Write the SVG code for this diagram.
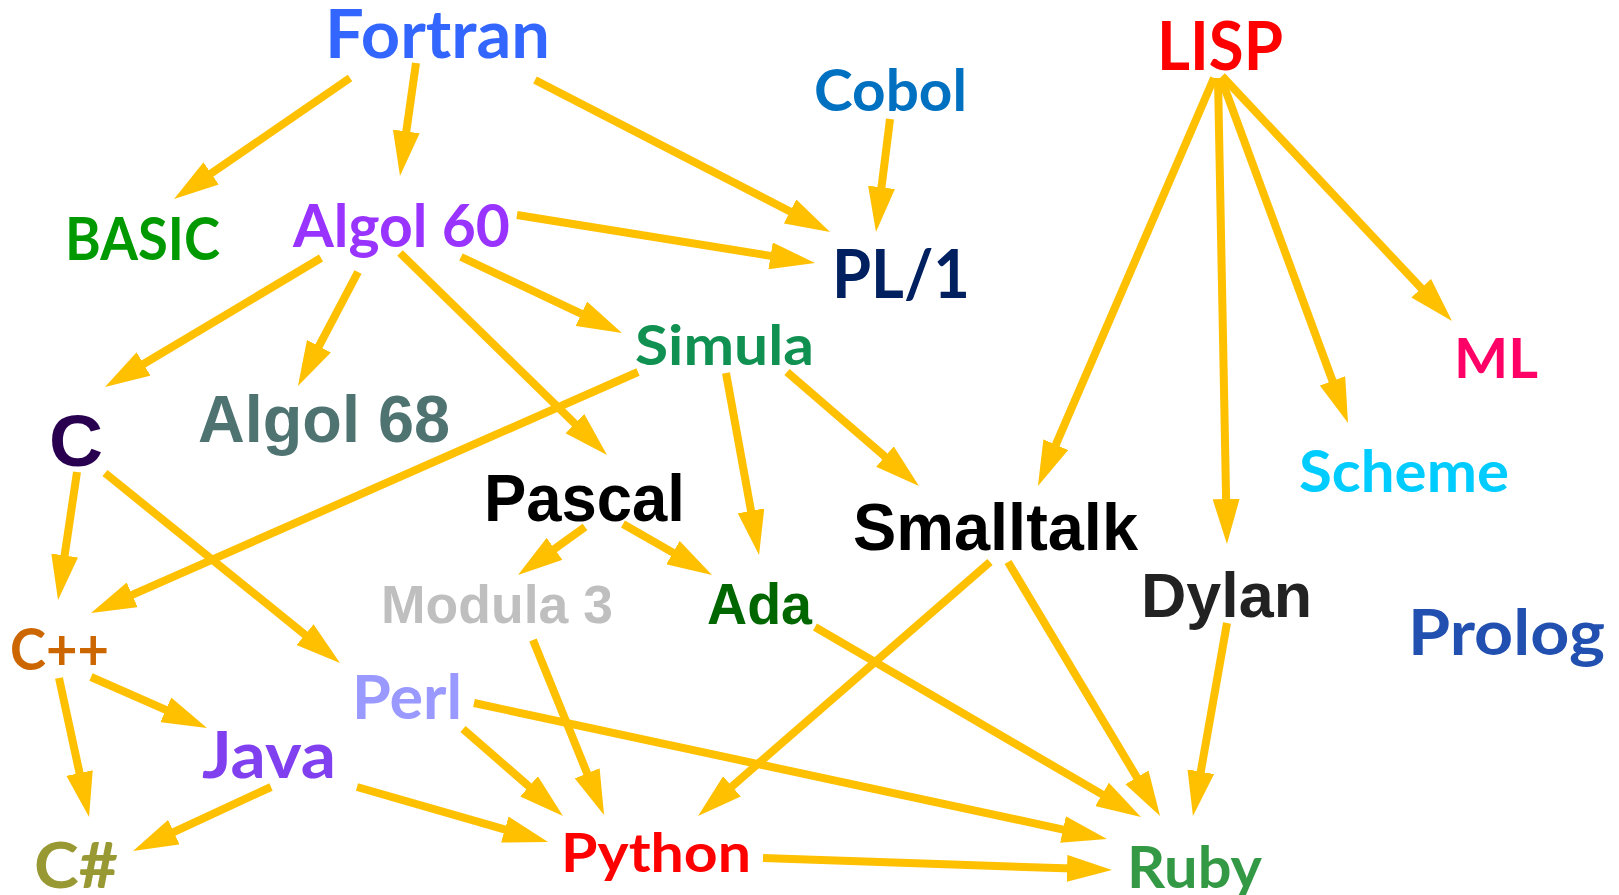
<svg xmlns="http://www.w3.org/2000/svg" width="1619" height="895" viewBox="0 0 1619 895">
  <style>
    .c { font-family: Lato, "Open Sans", "Liberation Sans", sans-serif; font-weight: bold; }
    .a { font-family: "Liberation Sans", Arial, sans-serif; font-weight: bold; }
    .edges line { stroke: #FFC000; stroke-width: 8; marker-end: url(#head); }
  </style>
  <defs>
    <marker id="head" markerUnits="userSpaceOnUse" markerWidth="45" markerHeight="27" viewBox="0 0 45 27" refX="5" refY="13.5" orient="auto">
      <path d="M0,0 L45,13.5 L0,27 z" fill="#FFC000"/>
    </marker>
  </defs>
  <rect width="1619" height="895" fill="#FFFFFF"/>

  <!-- influence arrows -->
  <g id="edges" class="edges">
    <line x1="350" y1="78" x2="207.0" y2="176.3"/>
    <line x1="416" y1="63" x2="405.6" y2="136.4"/>
    <line x1="535" y1="80" x2="794.5" y2="213.7"/>
    <line x1="890" y1="119" x2="880.9" y2="192.3"/>
    <line x1="517" y1="215" x2="775.5" y2="256.6"/>
    <line x1="321" y1="258" x2="139.3" y2="366.5"/>
    <line x1="358" y1="272" x2="316.6" y2="350.6"/>
    <line x1="400" y1="253" x2="578.4" y2="427.1"/>
    <line x1="461" y1="257" x2="585.8" y2="315.9"/>
    <line x1="638" y1="372" x2="127.6" y2="596.9"/>
    <line x1="726" y1="373" x2="751.9" y2="515.7"/>
    <line x1="787" y1="372" x2="888.7" y2="459.8"/>
    <line x1="1214" y1="78" x2="1053.8" y2="449.3"/>
    <line x1="1218" y1="78" x2="1226.2" y2="504"/>
    <line x1="1221" y1="78" x2="1334.2" y2="385.5"/>
    <line x1="1222" y1="76" x2="1424.6" y2="291.8"/>
    <line x1="77" y1="472" x2="63.9" y2="560.4"/>
    <line x1="105" y1="473" x2="308.9" y2="637.8"/>
    <line x1="585" y1="527" x2="550.5" y2="551.7"/>
    <line x1="623" y1="524" x2="677.3" y2="555.1"/>
    <line x1="990" y1="562" x2="728.2" y2="789.7"/>
    <line x1="1008" y1="562" x2="1139.5" y2="781.7"/>
    <line x1="815" y1="627" x2="1106.4" y2="796.9"/>
    <line x1="1227" y1="623" x2="1199.9" y2="776.6"/>
    <line x1="91" y1="677" x2="170.4" y2="711.9"/>
    <line x1="59" y1="678" x2="80.6" y2="777.9"/>
    <line x1="271" y1="787" x2="169.3" y2="834.2"/>
    <line x1="357" y1="787" x2="509.6" y2="830.9"/>
    <line x1="463" y1="729" x2="532.8" y2="789.7"/>
    <line x1="474" y1="703" x2="1067.9" y2="830.6"/>
    <line x1="533" y1="640" x2="589.0" y2="777.9"/>
    <line x1="763" y1="858" x2="1072.0" y2="868.6"/>
  </g>

  <!-- languages -->
  <g id="fortran"><text class="c" x="325" y="58" font-size="67" fill="#3366FF" textLength="225" lengthAdjust="spacingAndGlyphs">Fortran</text></g>
  <g id="cobol"><text class="c" x="814" y="111" font-size="57" fill="#0070C0" textLength="153" lengthAdjust="spacingAndGlyphs">Cobol</text></g>
  <g id="lisp"><text class="c" x="1157" y="70" font-size="66" fill="#FF0000" textLength="126" lengthAdjust="spacingAndGlyphs">LISP</text></g>
  <g id="basic"><text class="c" x="65" y="260" font-size="59" fill="#009900" textLength="155" lengthAdjust="spacingAndGlyphs">BASIC</text></g>
  <g id="algol60"><text class="c" x="293" y="247" font-size="59" fill="#9933FF" textLength="217" lengthAdjust="spacingAndGlyphs">Algol 60</text></g>
  <g id="pl1"><text class="c" x="832" y="298" font-size="66" fill="#002060" textLength="138" lengthAdjust="spacingAndGlyphs">PL/1</text></g>
  <g id="simula"><text class="c" x="635" y="365" font-size="56" fill="#109152" textLength="179" lengthAdjust="spacingAndGlyphs">Simula</text></g>
  <g id="ml"><text class="c" x="1454" y="378" font-size="56" fill="#FF0066" textLength="84" lengthAdjust="spacingAndGlyphs">ML</text></g>
  <g id="c"><text class="a" x="49" y="466" font-size="73" fill="#290050" textLength="54" lengthAdjust="spacingAndGlyphs">C</text></g>
  <g id="algol68"><text class="a" x="198" y="442" font-size="66" fill="#4E7371" textLength="252" lengthAdjust="spacingAndGlyphs">Algol 68</text></g>
  <g id="pascal"><text class="a" x="484" y="521" font-size="67" fill="#000000" textLength="201" lengthAdjust="spacingAndGlyphs">Pascal</text></g>
  <g id="smalltalk"><text class="a" x="853" y="550" font-size="66" fill="#000000" textLength="285" lengthAdjust="spacingAndGlyphs">Smalltalk</text></g>
  <g id="scheme"><text class="c" x="1299" y="492" font-size="57" fill="#00CCFF" textLength="210" lengthAdjust="spacingAndGlyphs">Scheme</text></g>
  <g id="modula3"><text class="a" x="381" y="623" font-size="53" fill="#BFBFBF" textLength="232" lengthAdjust="spacingAndGlyphs">Modula 3</text></g>
  <g id="ada"><text class="a" x="707" y="624" font-size="58" fill="#006600" textLength="105" lengthAdjust="spacingAndGlyphs">Ada</text></g>
  <g id="dylan"><text class="a" x="1141" y="617" font-size="63" fill="#222222" textLength="171" lengthAdjust="spacingAndGlyphs">Dylan</text></g>
  <g id="prolog"><text class="c" x="1408" y="655" font-size="63" fill="#2250B0" textLength="197" lengthAdjust="spacingAndGlyphs">Prolog</text></g>
  <g id="cpp"><text class="c" x="10" y="670" font-size="57" fill="#CC6600" textLength="99" lengthAdjust="spacingAndGlyphs">C++</text></g>
  <g id="perl"><text class="c" x="352" y="719" font-size="61" fill="#9999FF" textLength="110" lengthAdjust="spacingAndGlyphs">Perl</text></g>
  <g id="java"><text class="c" x="202" y="778" font-size="65" fill="#8040F0" textLength="134" lengthAdjust="spacingAndGlyphs">Java</text></g>
  <g id="csharp"><text class="c" x="34" y="888" font-size="64" fill="#999933" textLength="84" lengthAdjust="spacingAndGlyphs">C#</text></g>
  <g id="python"><text class="c" x="561" y="872" font-size="54" fill="#FF0000" textLength="190" lengthAdjust="spacingAndGlyphs">Python</text></g>
  <g id="ruby"><text class="c" x="1127" y="888" font-size="58" fill="#339944" textLength="135" lengthAdjust="spacingAndGlyphs">Ruby</text></g>
</svg>
